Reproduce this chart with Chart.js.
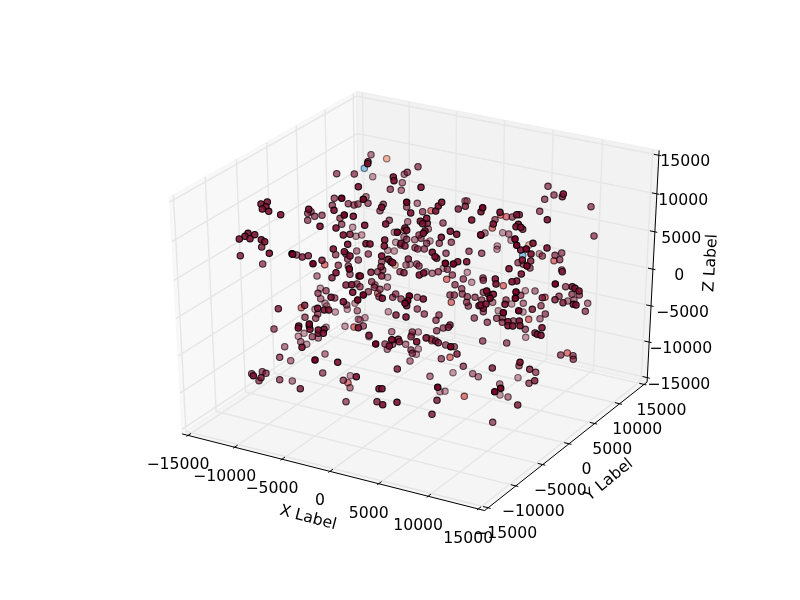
<!DOCTYPE html>
<html>
<head>
<meta charset="utf-8">
<title>3D scatter</title>
<script src="https://cdn.jsdelivr.net/npm/chart.js@4"></script>
<style>
  html, body { margin: 0; padding: 0; background: #fff; }
  canvas { display: block; }
</style>
</head>
<body>
<canvas id="scatter3d" width="800" height="600"></canvas>
<script>
// axis ticks (same on all three axes)
const tickValues = [-15000, -10000, -5000, 0, 5000, 10000, 15000];
const tickLabels = ['\u221215000', '\u221210000', '\u22125000', '0', '5000', '10000', '15000'];

// points, in the view plane, grouped by how faded they are
const lightX = [352.7,356,372.7,394.3,361.7,395.7,430,502.7,511,497.3,497,539.3,
  320.3,355,325,326.7,347.3,315,335.3,358.3,326,345,304,298.3,
  387.7,394.3,410,426,443.3,387.7,467.3,471.7,388.3,365,360,418.3,411.7,
  525.3,511.7,523,498.3,525.7,
  306.7,350.3,369,418.3,416.3,453,440,445,518,500];
const lightY = [227.3,236.3,176.7,232.3,235,242.3,241,232.7,240.3,246,249.3,253.7,
  288.3,303.3,303.3,306,309.3,309.3,312,319.3,327.3,326.3,333.3,336.3,
  250.3,251,264.3,271.7,268.3,277.3,272.3,282.3,311.7,317.7,320,332,335,
  290.7,304,312,310.7,337.3,
  344.3,375.7,336.7,349,354.3,372.7,391.7,391.3,377.7,395];

const paleX = [371,404.3,402.3,401.3,366,417.3,465,467,407.7,428.3,404,414.7,485,508.7,
  356.7,320.7,357.3,318.3,317,
  406,432.3,387.3,375,417.3,391.7,
  567.7,574,587.7,535,523.3,492.7,540,
  284.7,290.7,300.7,325,292.3,350,
  392.3,387.3,405.7,410,430,472.7,478.3,499.7,508];
const paleY = [154.7,174.3,182.7,190.3,196.7,203.3,201,201,221.7,229,236.7,239.7,233,234,
  251,298.7,310.7,338,276,
  265,273.3,287,285,297.3,331.7,
  301,300,303.3,291,303.3,302.3,318.7,
  346.7,360.7,341.7,354,381,387.7,
  340,349.3,344.3,361,376.3,373.7,376.7,384,397];

const midX = [336.7,354.3,334.3,332.3,348.3,354,358,340,341.7,311,307.7,314.7,322,307.7,
  418,407.3,390.3,368,383.3,380,406.7,422.7,443,389.3,421,419,406.7,426.7,451.3,439.3,
  548,554,544.7,591,539.7,594,512.3,495,542.3,481.7,561.7,555,559.7,518,523.3,530,561.7,
  262.7,296.7,335.7,346,347.7,338.3,348.3,358.3,350,357,326,318,334.7,346.7,317.7,305,315.7,274,312.3,
  400.7,415,417.7,424.3,446,469,368.3,381.7,416.7,419,382.7,377.7,400,438.3,447.3,452.3,463.3,455,461.7,483,
  371.7,374.3,380,360,368.3,379,392.7,395.7,401,450,454.3,462.3,467.3,475,481.7,468.3,466.7,417.3,424.3,439,436,474.3,443.3,436.7,412.3,363.3,426.7,431.7,
  483.3,565.7,572,579.3,559,520.7,541,506,483.3,483.3,545.3,585.3,496.7,502.3,487.3,502.3,513.3,525.3,482.7,506.7,560.7,573,573.3,
  279.7,251.7,262.3,266,259,279.7,343.3,346,322.7,
  385,392.7,411,411,412.3,426,445.7,454.3,441.3,463.3,519,535.7,529,492.7];
const midY = [173.7,174,198.3,205.3,203.7,205,204,218.3,224.3,211.7,213.3,216.3,215.3,220.3,
  166.7,172.3,189.3,203.3,204.3,210.7,207,211.7,223,220.3,238.3,235,239.3,243.3,242.3,243.3,
  186.3,195,199.3,206.7,211.3,236,217,219.7,256,253.3,253,255.3,259.7,262.7,264.3,268,270,
  264,255,254.7,254,259,265.3,266,260,274.3,284,290.7,293.3,298,305,314,317.3,318.3,329,336.7,
  245,247.7,249,249,253.3,251.3,254,261.7,264,266,270,271.7,271.7,271.7,269.3,275,279,284.7,288.7,278,
  281.7,287.3,289.3,286.7,291.7,296.7,297.3,294,299,295,295,294,296.7,297.3,300,306,302.3,309,314,315,320.3,318,328,330.7,332,326,337.7,339,
  280.3,286.7,294.3,295,296.3,295.3,305.7,300,292.3,311.7,314,311.3,318.3,317.7,322.3,322.3,321,329.3,341,343,355,355.7,359.3,
  357.3,373.7,371.7,373.3,380.7,379.7,380.3,401.7,373,
  344,344.3,336.7,350,353.3,338,345,346.7,358.7,366.3,365.7,372.3,383.3,422.3];

const deepX = [350,240.3,261.7,302.3,308.3,322,332,346,304.7,278.3,318.3,
  458.3,465.3,481,427.3,401,405,562.3,519.3,522.7,530.7,562.3,
  436.7,408.3,381,371,404,381.7,396,450,448.3,369,398.3,483.3,
  542.3,555,563,532.3,535,
  300.3,261,399.3,435.7,438.3,397.3,457,437,377,432,492.3,529.7,534.7,517.7];
const deepY = [234.3,255.7,247,257,255.7,260.3,277.7,285,305.3,308.7,333.3,
  209,206.3,235.3,223.3,243.3,246,196.7,214.7,229.3,261,271.7,
  258.3,259,266.7,272.3,272.7,276,315,325,327.3,335.3,339.3,308.3,
  297.7,299.7,302.7,309.3,333,
  388.7,377.7,341.7,341,342.7,369,354,400.3,401.7,414.3,368,369.3,380.7,405];

const darkX = [334,353.3,336,343.3,347.7,308.7,320,280.7,267.3,261,266,262.3,268.7,254.7,248,245,250,239.3,261.3,264.7,
  368,367.7,393.3,394,421,358.3,381.7,410.7,435.7,438.3,441.7,481,471.7,426.7,420.3,422.7,385.7,364.7,405,406.7,425,423.3,450.3,456.7,441.3,480.7,384.7,366,370,
  563.3,547.3,500,516.7,493.3,518.3,516,520.7,533,520.7,531,547,522.3,509,
  269.3,333.3,344.3,350,336,359,351.7,352.7,331,343.3,317.7,324.3,328.7,298.7,298.3,309.3,324,318.3,358.3,323.3,310,
  384.3,432.3,435,381.7,388.3,391,392.7,360.3,419.3,423.7,457.7,466.7,382.3,406.7,423.3,479,406,391.7,
  521.3,516.7,512,495.3,496,572.3,575,579,488.3,493.3,573.3,576,505,481,486,508,519.3,508,512.7,520,542,537.3,541,520,
  302,337.7,253.3,356.3,389.3,416.7,379,382,382.7,397];
const darkY = [210.3,216.3,228,235,244.3,209.3,226.3,214.7,202,204,206.7,209,211.3,234.7,233.3,236.3,238.7,239,239.7,241.7,
  161.7,163.7,177,180.7,187.3,186.7,207.3,213,211,206,202.3,211.7,220,218.3,221.3,223.7,224,225.3,228,230.3,231,233.3,231.3,234.3,237.3,234.7,240,243.7,244,
  194,219.7,212.3,214.7,224,224.3,226.7,227.3,243.3,250,254,248,260,268.7,
  253.3,249,251.7,256,272.7,276,284.7,292.3,297.3,301.7,308.3,310,310,326,328,326,329.3,330,327.7,333.3,329.3,
  246,252.3,256.7,256,259.3,261.7,262.7,276,275,273,261.7,261.7,298.3,305.7,299,305.7,317,339.7,
  274,281,281.7,279,284,286.7,288.3,291,294,294.3,304.3,305,304.3,305,304,321.7,321,325.7,326,325.7,327.7,334.3,335.3,362.3,
  347.3,362.3,375.7,376.7,346,341.7,388.7,388.7,404.7,402.3];

const darkestX = [341.7,344.3,363.3,406.7,482.7,397.3,515,516.7,526.3,527,292,292.7,313,349.3,357.7,309.3,445.3,453.3,363.3,
  409.3,407.7,405,555.3,516,515.3,486.7,490,503.3,518.7,315,375.7,450.7,437.7,500.7,494.7];
const darkestY = [198.3,215,199.3,202.3,207.7,232.3,239,245.3,249,266,253.7,254.3,263.7,269,300,324,263.3,264,295,
  296,300.7,303.3,284,292,298.3,291,298.3,312.7,310.7,360,344,346.7,387.3,388.3,391.7];

const salmonX = [431,500.7,506.3,492.3,554,404,324.7,301.3,354,377.7,451.3,503.3,545,528.7,348,450,431.7,464.3,567.3,446.7];
const salmonY = [210.7,215,216.7,228,260.7,230.3,264.7,307.7,327,293.3,302.3,285.7,297.3,319.3,382.7,357.3,340.7,396.3,353,279.3];

const orangeX = [386.7,395,529];
const orangeY = [158.7,265,245];

const blueX = [364.3,522.7];
const blueY = [168.3,255.3];

const axisLabels = ['X Label', 'Y Label', 'Z Label'];

// mplot3d view: elev 30, azim -60, dist 10, on a 620x480 axes box
const edgeLo = -15625, edgeHi = 15625;
function project(x, y, z) {
    const px = (x + 15000) / 30000 - 0.5, py = (y + 15000) / 30000 - 0.5, pz = (z + 15000) / 30000 - 0.5;
    const u = 0.866025 * px + 0.5 * py;
    const v = -0.25 * px + 0.433013 * py + 0.866025 * pz;
    const n = 0.433013 * px - 0.75 * py + 0.5 * pz;
    const w = 10 - n;
    return {
        x: 100 + (u / w + 0.095) / 0.185 * 620,
        y: 540 - (v / w + 0.095) / 0.185 * 480
    };
}

function path(points) {
    return points.map(p => project(p[0], p[1], p[2]));
}

function pairs(xs, ys) {
    return xs.map((x, i) => ({ x: x, y: ys[i] }));
}

function lineSet(data, color, width, order) {
    return { data: data, showLine: true, pointRadius: 0, borderColor: color, borderWidth: width, fill: false, order: order };
}

function paneSet(corners, fillColor, order) {
    const data = path(corners.concat([corners[0]]));
    return { data: data, showLine: true, pointRadius: 0, borderColor: fillColor, borderWidth: 1, backgroundColor: fillColor, fill: 'shape', order: order };
}

function pointSet(xs, ys, fillColor, edgeColor, order) {
    return { data: pairs(xs, ys), pointRadius: 3.2, pointBorderWidth: 1.1, pointBackgroundColor: fillColor, pointBorderColor: edgeColor, order: order };
}

// grid lines and tick marks, one polyline per tick with gaps between
const gridData = [], tickData = [];
const gap = { x: null, y: null };
tickValues.forEach(t => {
    gridData.push(...path([[t, edgeLo, edgeLo], [t, edgeHi, edgeLo], [t, edgeHi, edgeHi]]), gap);
    gridData.push(...path([[edgeHi, t, edgeLo], [edgeLo, t, edgeLo], [edgeLo, t, edgeHi]]), gap);
    gridData.push(...path([[edgeLo, edgeLo, t], [edgeLo, edgeHi, t], [edgeHi, edgeHi, t]]), gap);
    tickData.push(...path([[t, edgeLo - 250, edgeLo], [t, edgeLo + 500, edgeLo]]), gap);
    tickData.push(...path([[edgeHi + 250, t, edgeLo], [edgeHi - 500, t, edgeLo]]), gap);
    tickData.push(...path([[edgeHi + 250, edgeHi, t], [edgeHi - 500, edgeHi, t]]), gap);
});

const axisData = path([[edgeLo, edgeLo, edgeLo], [edgeHi, edgeLo, edgeLo], [edgeHi, edgeHi, edgeLo], [edgeHi, edgeHi, edgeHi]]);

const tickText = {
    id: 'tickText',
    afterDraw(chart) {
        const c = chart.ctx, sx = chart.scales.x, sy = chart.scales.y;
        const put = (text, px, py, angle) => {
            c.save();
            c.translate(sx.getPixelForValue(px), sy.getPixelForValue(py));
            c.rotate(angle * Math.PI / 180);
            c.fillText(text, 0, 0);
            c.restore();
        };
        c.save();
        c.font = '15.7px "DejaVu Sans"';
        c.fillStyle = '#000';
        c.textAlign = 'center';
        c.textBaseline = 'middle';
        tickValues.forEach((t, i) => {
            const a = project(t, edgeLo, edgeLo);
            put(tickLabels[i], a.x - 10, a.y + 30, 0);
            const b = project(edgeHi, t, edgeLo);
            put(tickLabels[i], b.x + 17.5, b.y + 26.5, 0);
            const d = project(edgeHi, edgeHi, t);
            put(tickLabels[i], d.x + (t < 0 ? 31.5 : 26.3), d.y + 6.9, 0);
        });
        put(axisLabels[0], 308, 518, 14.7);
        put(axisLabels[1], 609, 480, -39.3);
        put(axisLabels[2], 711, 263, -86.5);
        c.restore();
    }
};

new Chart(document.getElementById('scatter3d').getContext('2d'), {
    type: 'scatter',
    data: {
        datasets: [
            paneSet([[edgeLo, edgeLo, edgeLo], [edgeLo, edgeHi, edgeLo], [edgeLo, edgeHi, edgeHi], [edgeLo, edgeLo, edgeHi]], 'rgba(242,242,242,0.5)', 24),
            paneSet([[edgeLo, edgeHi, edgeLo], [edgeHi, edgeHi, edgeLo], [edgeHi, edgeHi, edgeHi], [edgeLo, edgeHi, edgeHi]], 'rgba(230,230,230,0.5)', 23),
            paneSet([[edgeLo, edgeLo, edgeLo], [edgeHi, edgeLo, edgeLo], [edgeHi, edgeHi, edgeLo], [edgeLo, edgeHi, edgeLo]], 'rgba(236,236,236,0.5)', 22),
            lineSet(gridData, '#e6e6e6', 1.4, 21),
            lineSet(axisData, '#000', 1, 20),
            lineSet(tickData, '#000', 1, 19),
            pointSet(blueX, blueY, 'rgba(120,185,225,0.8)', 'rgba(40,60,80,0.7)', 18),
            pointSet(orangeX, orangeY, 'rgba(238,165,135,0.85)', 'rgba(90,70,70,0.75)', 17),
            pointSet(lightX, lightY, 'rgba(130,25,55,0.42)', 'rgba(20,0,10,0.55)', 16),
            pointSet(salmonX, salmonY, 'rgba(215,85,85,0.75)', 'rgba(50,20,25,0.75)', 15),
            pointSet(paleX, paleY, 'rgba(125,22,52,0.54)', 'rgba(20,0,10,0.65)', 14),
            pointSet(midX, midY, 'rgba(122,20,50,0.66)', 'rgba(20,0,10,0.75)', 13),
            pointSet(deepX, deepY, 'rgba(122,18,50,0.8)', 'rgba(10,0,5,0.85)', 12),
            pointSet(darkX, darkY, 'rgba(125,15,48,0.9)', 'rgba(5,0,3,0.92)', 11),
            pointSet(darkestX, darkestY, 'rgba(120,5,42,1)', 'rgba(0,0,0,1)', 10)
        ]
    },
    options: {
        responsive: false,
        animation: false,
        events: [],
        layout: { padding: 0, autoPadding: false },
        plugins: { legend: { display: false }, tooltip: { enabled: false } },
        scales: {
            x: { type: 'linear', min: 0, max: 800, display: false },
            y: { type: 'linear', min: 0, max: 600, reverse: true, display: false }
        }
    },
    plugins: [tickText]
});
</script>
</body>
</html>
